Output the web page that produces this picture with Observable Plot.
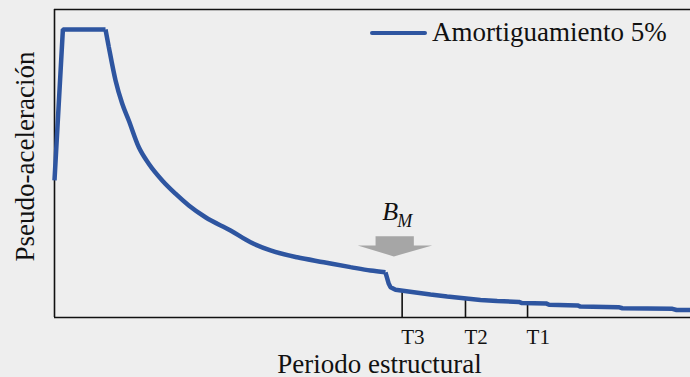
<!DOCTYPE html>
<html>
<head>
<meta charset="utf-8">
<script src="https://cdn.jsdelivr.net/npm/d3@7"></script>
<script src="https://cdn.jsdelivr.net/npm/@observablehq/plot@0.6"></script>
<style>
  html, body { margin: 0; padding: 0; background: #eeeeee; }
  #wrap { position: relative; width: 690px; height: 377px; font-family: "Liberation Serif", "Times New Roman", serif; }
  #legend { position: absolute; left: 370px; top: 19px; display: flex; align-items: center; font-size: 27px; line-height: 27px; color: #111; white-space: nowrap; }
  #legend .swatch { width: 57px; height: 4.5px; background: #2E55A0; margin-right: 5px; margin-top: 1px; border-radius: 2px; }
</style>
</head>
<body>
<div id="wrap">
  <div id="chart"></div>
  <div id="legend"><span class="swatch"></span><span>Amortiguamiento 5%</span></div>
</div>
<script>
// Spectrum (structural period, pseudo-acceleration, normalized to plateau)
const period = [0, 0.066, 0.401, 0.427, 0.480, 0.532, 0.584, 0.663, 0.741, 0.847, 0.951, 1.056, 1.187, 1.384, 1.541, 1.698, 1.908, 2.117, 2.327, 2.484, 2.602, 2.628, 2.642, 2.681, 2.825, 2.956, 3.087, 3.218, 3.349, 3.480, 3.651, 3.675, 3.864, 3.888, 4.112, 4.135, 4.434, 4.465, 4.858, 4.890, 5.0];
const pseudoAcc = [0.476, 1.0, 1.0, 0.939, 0.823, 0.743, 0.684, 0.591, 0.534, 0.476, 0.430, 0.389, 0.348, 0.302, 0.261, 0.233, 0.209, 0.192, 0.175, 0.163, 0.157, 0.117, 0.105, 0.096, 0.088, 0.080, 0.073, 0.067, 0.061, 0.057, 0.054, 0.050, 0.049, 0.044, 0.042, 0.038, 0.036, 0.032, 0.030, 0.026, 0.026];

// Periods marked on the axis
const tickNames = ["T3", "T2", "T1"];
const tickPeriods = [2.733, 3.231, 3.719];
const tickSa = [0.092, 0.068, 0.050];

// B_M annotation (arrow polygon and label, in data units)
const arrowT = [2.524, 2.825, 2.825, 2.969, 2.668, 2.384, 2.524, 2.524];
const arrowSa = [0.282, 0.282, 0.250, 0.250, 0.212, 0.250, 0.250, 0.282];
const bmLabelT = [2.577];
const bmLabelSa = [0.337];
const bmSubT = [2.695];
const bmSubSa = [0.3135];

const yMax = 1.0694;
const xMax = 5.0;

const spectrum = period.map((t, i) => ({t, sa: pseudoAcc[i], i}));
// pieces: rise + plateau (straight), smooth decay, step + tail (straight)
const rise = spectrum.filter(d => d.i <= 2);
const decay = spectrum.filter(d => d.i >= 2 && d.i <= 20);
const tail = spectrum.filter(d => d.i >= 20);
const ticks = tickNames.map((n, i) => ({name: n, t: tickPeriods[i], sa: tickSa[i]}));
const arrow = arrowT.map((t, i) => ({t, sa: arrowSa[i]}));

const font = "Liberation Serif, Times New Roman, serif";
const blue = "#2E55A0";
const lineOpts = {x: "t", y: "sa", stroke: blue, strokeWidth: 4.5, strokeLinejoin: "miter", strokeLinecap: "butt"};

const chart = Plot.plot({
  width: 690,
  height: 377,
  marginTop: 9,
  marginLeft: 54,
  marginRight: 0,
  marginBottom: 60,
  style: {background: "transparent", fontFamily: font, overflow: "visible"},
  x: {domain: [0, xMax], axis: null},
  y: {domain: [0, yMax], axis: null},
  marks: [
    Plot.ruleY([0], {stroke: "#111", strokeWidth: 1.6}),
    Plot.ruleY([yMax], {stroke: "#111", strokeWidth: 1.6}),
    Plot.ruleX([0], {stroke: "#111", strokeWidth: 1.6}),
    Plot.ruleX(ticks, {x: "t", y1: 0, y2: "sa", stroke: "#111", strokeWidth: 1.6}),
    Plot.line(arrow, {x: "t", y: "sa", fill: "#a6a6a6", stroke: "none"}),
    Plot.line(rise, lineOpts),
    Plot.line(decay, {...lineOpts, curve: "monotone-x"}),
    Plot.line(tail, lineOpts),
    Plot.text(ticks, {x: "t", y: 0, text: "name", dy: 26, dx: -1, textAnchor: "start", lineAnchor: "bottom", fontSize: 21, fill: "#111", fontFamily: font}),
    Plot.text(bmLabelT.map((t, i) => ({t, sa: bmLabelSa[i]})), {x: "t", y: "sa", text: () => "B", textAnchor: "start", lineAnchor: "bottom", fontSize: 26, fontStyle: "italic", fill: "#111", fontFamily: font}),
    Plot.text(bmSubT.map((t, i) => ({t, sa: bmSubSa[i]})), {x: "t", y: "sa", text: () => "M", textAnchor: "start", lineAnchor: "bottom", fontSize: 18, fontStyle: "italic", fill: "#111", fontFamily: font}),
    Plot.text(["Periodo estructural"], {frameAnchor: "bottom", dy: 55, dx: 7, textAnchor: "middle", lineAnchor: "bottom", fontSize: 27, fill: "#111", fontFamily: font}),
    Plot.text(["Pseudo-aceleración"], {frameAnchor: "left", rotate: -90, dx: -21, dy: -7, textAnchor: "middle", lineAnchor: "bottom", fontSize: 27, fill: "#111", fontFamily: font})
  ]
});
document.getElementById("chart").appendChild(chart);
</script>
</body>
</html>
